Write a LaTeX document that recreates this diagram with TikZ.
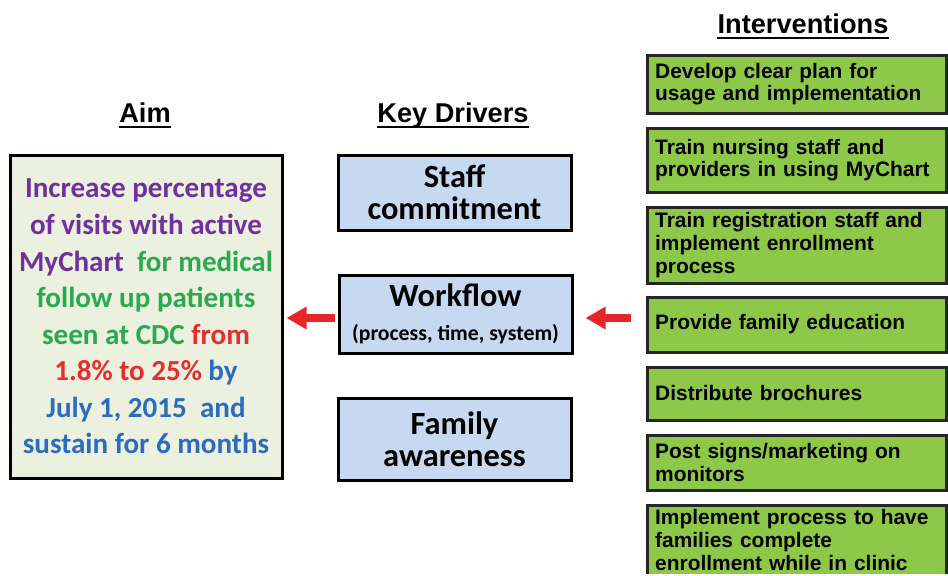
\documentclass[tikz,border=0pt]{standalone}
\usepackage{fontspec}
\setmainfont{Carlito}
\newfontfamily\arialbf{Liberation Sans}[BoldFont={Liberation Sans Bold}]
\usetikzlibrary{arrows.meta}

\definecolor{aimfill}{HTML}{EBF1DE}
\definecolor{drvfill}{HTML}{C6D9F1}
\definecolor{intfill}{HTML}{8DC849}
\definecolor{aimpurple}{HTML}{7030A0}
\definecolor{aimgreen}{HTML}{2AAA4F}
\definecolor{aimred}{HTML}{E62E2E}
\definecolor{aimblue}{HTML}{2B6CC0}
\definecolor{arrowred}{HTML}{E8262A}

\tikzset{
  heading/.style={font=\arialbf\bfseries\fontsize{20.4}{22}\selectfont, inner sep=0pt, anchor=base},
  aimbox/.style={draw=black, line width=2.25pt, fill=aimfill,
    minimum width=204pt, minimum height=242.25pt, align=center,
    font=\bfseries\fontsize{21.8}{27.4}\selectfont},
  drvbox/.style={draw=black, line width=2.25pt, fill=drvfill,
    minimum width=174.75pt, align=center,
    font=\bfseries\fontsize{24.3}{24}\selectfont},
  intbox/.style={draw=black!85, line width=2.25pt, fill=intfill,
    minimum width=224.25pt, text width=212pt, inner xsep=6pt,
    align=left, font=\arialbf\bfseries\fontsize{15.7}{17}\selectfont},
  bigarrow/.style={draw=arrowred, line width=6pt,
    -{Triangle[length=15pt,width=16pt]}},
  underl/.style={line width=1.5pt}
}

\begin{document}
\begin{tikzpicture}[x=0.75pt,y=-0.75pt]
\useasboundingbox (0,0) rectangle (948,575);
\clip (0,0) rectangle (948,573.5);
\fill[white] (0,0) rectangle (948,575);

% column headings
\node[heading] (aimttl) at (145,122) {Aim};
\node[heading] (drvttl) at (453,122) {Key Drivers};
\node[heading] (intttl) at (803,33) {Interventions};
\foreach \t in {aimttl,drvttl,intttl}
  \draw[underl] ([yshift=-3.6pt]\t.base west) -- ([yshift=-3.6pt]\t.base east);

% aim
\node[aimbox] (aim) at (146,316.5) {%
  \textcolor{aimpurple}{Increase percentage}\\
  \textcolor{aimpurple}{of visits with active}\\
  \textcolor{aimpurple}{MyChart}\textcolor{aimgreen}{\ \ for medical}\\
  \textcolor{aimgreen}{follow up patients}\\
  \textcolor{aimgreen}{seen at CDC }\textcolor{aimred}{from}\\
  \textcolor{aimred}{1.8\% to 25\% }\textcolor{aimblue}{by}\\
  \textcolor{aimblue}{July 1, 2015\ \ and}\\
  \textcolor{aimblue}{sustain for 6 months}};

% key drivers
\node[drvbox, minimum height=56.25pt] (staff) at (454.5,192.5) {Staff\\commitment};
\node[drvbox, minimum height=58.5pt] (wf) at (455.5,314) {Workflow\\[1pt]{\fontsize{16.3}{18}\selectfont(process, time, system)}};
\node[drvbox, minimum height=61.5pt] (fam) at (454.5,439) {Family\\awareness};

% interventions
\node[intbox, minimum height=43.5pt] (b1) at (796.5,84) {Develop clear plan for\\usage and implementation};
\node[intbox, minimum height=48pt] (b2) at (796.5,160) {Train nursing staff and\\providers in using MyChart};
\node[intbox, minimum height=57pt] (b3) at (796.5,245) {Train registration staff and\\implement enrollment\\process};
\node[intbox, minimum height=41.25pt] (b4) at (796.5,324.5) {Provide family education};
\node[intbox, minimum height=39.75pt] (b5) at (796.5,393.5) {Distribute brochures};
\node[intbox, minimum height=41.25pt] (b6) at (796.5,462.5) {Post signs/marketing on\\monitors};
\node[intbox, minimum height=52.5pt] (b7) at (796.5,540) {Implement process to have\\families complete\\enrollment while in clinic};

% arrows
\coordinate (lvl) at ([yshift=-3pt]wf.center);
\draw[bigarrow, shorten <=2.25pt, shorten >=2.25pt] (lvl -| wf.west) -- (lvl -| aim.east);
\draw[bigarrow, shorten <=11.25pt, shorten >=9pt] (lvl -| b4.west) -- (lvl -| wf.east);
\end{tikzpicture}
\end{document}
